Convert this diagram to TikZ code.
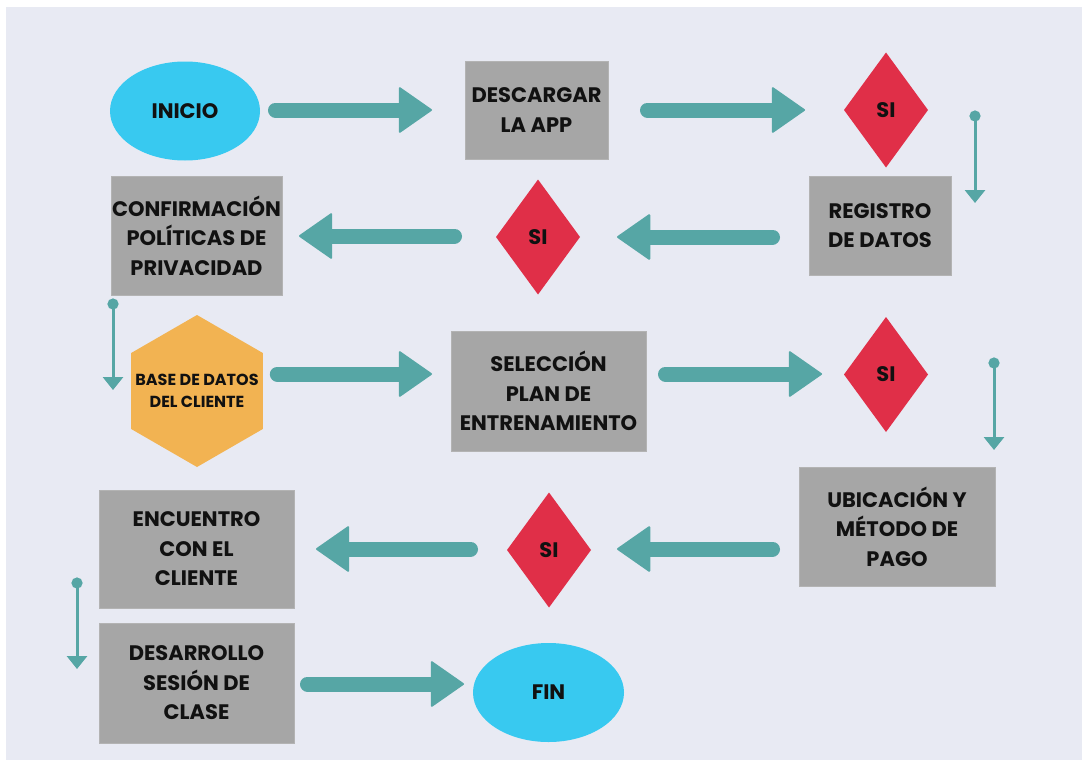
\documentclass[tikz,border=0pt]{standalone}
\usepackage{fontspec}
\setmainfont{Poppins}
\usetikzlibrary{shapes.geometric,arrows.meta}
\definecolor{bgc}{HTML}{E8EAF3}
\definecolor{teal}{HTML}{56A6A5}
\definecolor{redd}{HTML}{E02F48}
\definecolor{bluee}{HTML}{38C9F0}
\definecolor{grayy}{HTML}{A6A6A6}
\definecolor{orng}{HTML}{F2B352}
\definecolor{txt}{HTML}{111111}
\tikzset{
  lbl/.style={font=\bfseries\fontsize{21}{29.5}\selectfont, text=txt, align=center, inner sep=0pt, outer sep=0pt},
  ovalbox/.style={lbl, ellipse, fill=bluee, minimum width=150pt, minimum height=99pt},
  graybox/.style={lbl, rectangle, fill=grayy, draw=grayy!85!white, line width=0.8pt},
  decision/.style={lbl, diamond, fill=redd, minimum width=84pt, minimum height=115pt},
  hexa/.style={regular polygon, regular polygon sides=6, shape border rotate=30, fill=orng, minimum size=152pt, inner sep=0pt, outer sep=0pt},
  bigarr/.style={draw=teal, line width=15pt, line cap=round, -{Triangle[length=34pt,width=47pt,line width=2pt,round,fill=teal]}},
  smallarr/.style={draw=teal, line width=3pt, {Circle[length=11pt,fill=teal]}-{Triangle[length=13pt,width=20pt,fill=teal]}}
}
\begin{document}
\begin{tikzpicture}[x=1pt,y=-1pt]
\useasboundingbox (0,0) rectangle (1083,760);
\fill[white] (0,0) rectangle (1083,760);
\fill[bgc] (6,7) rectangle (1082,760);

\node[ovalbox] (inicio) at (185,111) {INICIO};
\node[graybox, minimum width=143pt, minimum height=98pt] (descargar) at (536.5,110) {DESCARGAR\\LA APP};
\node[decision] (si1) at (886,110) {SI};
\node[graybox, minimum width=142pt, minimum height=99pt] (reg) at (880,225.5) {REGISTRO\\DE DATOS};
\node[decision] (si2) at (538,237) {SI};
\node[graybox, minimum width=171pt, minimum height=119pt] (conf) at (196.5,235.5) {CONFIRMACIÓN\\POLÍTICAS DE\\PRIVACIDAD};
\node[hexa, label={[lbl, font=\bfseries\fontsize{16}{22}\selectfont]center:BASE DE DATOS\\DEL CLIENTE}] (hex) at (197,391) {};
\node[graybox, minimum width=195pt, minimum height=120pt] (sel) at (548.5,391) {SELECCIÓN\\PLAN DE\\ENTRENAMIENTO};
\node[decision] (si3) at (886,374.5) {SI};
\node[graybox, minimum width=196pt, minimum height=119pt] (ubi) at (897,526.5) {UBICACIÓN Y\\MÉTODO DE\\PAGO};
\node[decision] (si4) at (549,550) {SI};
\node[graybox, minimum width=195pt, minimum height=118pt] (enc) at (196.5,549) {ENCUENTRO\\CON EL\\CLIENTE};
\node[graybox, minimum width=195pt, minimum height=120pt] (des) at (196.5,683) {DESARROLLO\\SESIÓN DE\\CLASE};
\node[ovalbox, minimum width=151pt] (fin) at (548.5,692.5) {FIN};

% big arrows
\draw[bigarr] ([shift={(15.5,-1)}]inicio.east) -- ([shift={(-33,0)}]descargar.west);
\draw[bigarr] ([shift={(39.5,0)}]descargar.east) -- ([shift={(-39,0)}]si1.west);
\draw[bigarr] ([shift={(-36.5,11.5)}]reg.west) -- ([shift={(37,0)}]si2.east);
\draw[bigarr] ([shift={(-41.5,-1)}]si2.west) -- ([shift={(17,0.5)}]conf.east);
\draw[bigarr] ([shift={(14.5,-17)}]hex.east) -- ([shift={(-19,-17)}]sel.west);
\draw[bigarr] ([shift={(19.5,-17)}]sel.east) -- ([shift={(-22,-0.5)}]si3.west);
\draw[bigarr] ([shift={(-26.5,22.5)}]ubi.west) -- ([shift={(26,-1)}]si4.east);
\draw[bigarr] ([shift={(-36.5,-1)}]si4.west) -- ([shift={(22,0)}]enc.east);
\draw[bigarr] ([shift={(13.5,1)}]des.east) -- ([shift={(-9,-8.5)}]fin.west);

% small arrows
\coordinate (s1a) at (975,110.5); \coordinate (s1b) at (975,203);
\coordinate (s2a) at (113,298.5); \coordinate (s2b) at (113,390);
\coordinate (s3a) at (994,357.5); \coordinate (s3b) at (994,450);
\coordinate (s4a) at (77,577.5);  \coordinate (s4b) at (77,669);
\draw[smallarr] (s1a) -- (s1b);
\draw[smallarr] (s2a) -- (s2b);
\draw[smallarr] (s3a) -- (s3b);
\draw[smallarr] (s4a) -- (s4b);
\end{tikzpicture}
\end{document}
